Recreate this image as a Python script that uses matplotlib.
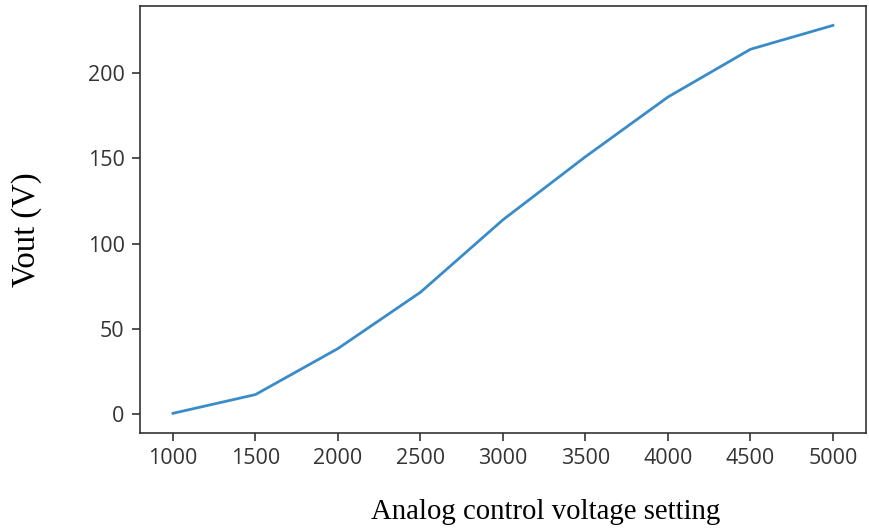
import matplotlib
matplotlib.use("Agg")
import matplotlib.pyplot as plt

# analog control setting vs measured output voltage
setting = [1000, 1500, 2000, 2500, 3000, 3500, 4000, 4500, 5000]
vout = [0.5, 11.5, 38.5, 71.5, 114, 151, 186, 214, 228]

fig = plt.figure(figsize=(8.69, 5.31), dpi=100)
ax = fig.add_axes([0.1611, 0.1851, 0.8354, 0.8036])

ax.plot(setting, vout, color="#3a8cc8", linewidth=2)

ax.set_xticks([1000, 1500, 2000, 2500, 3000, 3500, 4000, 4500, 5000])
ax.set_yticks([0, 50, 100, 150, 200])
ax.tick_params(labelsize=15.5, length=6, width=1.2, colors="#333333", pad=5)
for lab in ax.get_xticklabels() + ax.get_yticklabels():
    lab.set_fontfamily("Open Sans")
for s in ax.spines.values():
    s.set_color("#333333")
    s.set_linewidth(1.2)

fig.text(0.031, 0.567, "Vout (V)", rotation=90, ha="center", va="center",
         fontsize=23.5, family="Liberation Serif")
fig.text(0.628, 0.036, "Analog control voltage setting", ha="center", va="center",
         fontsize=20.7, family="Liberation Serif")

fig.savefig("out.png", dpi=100)
